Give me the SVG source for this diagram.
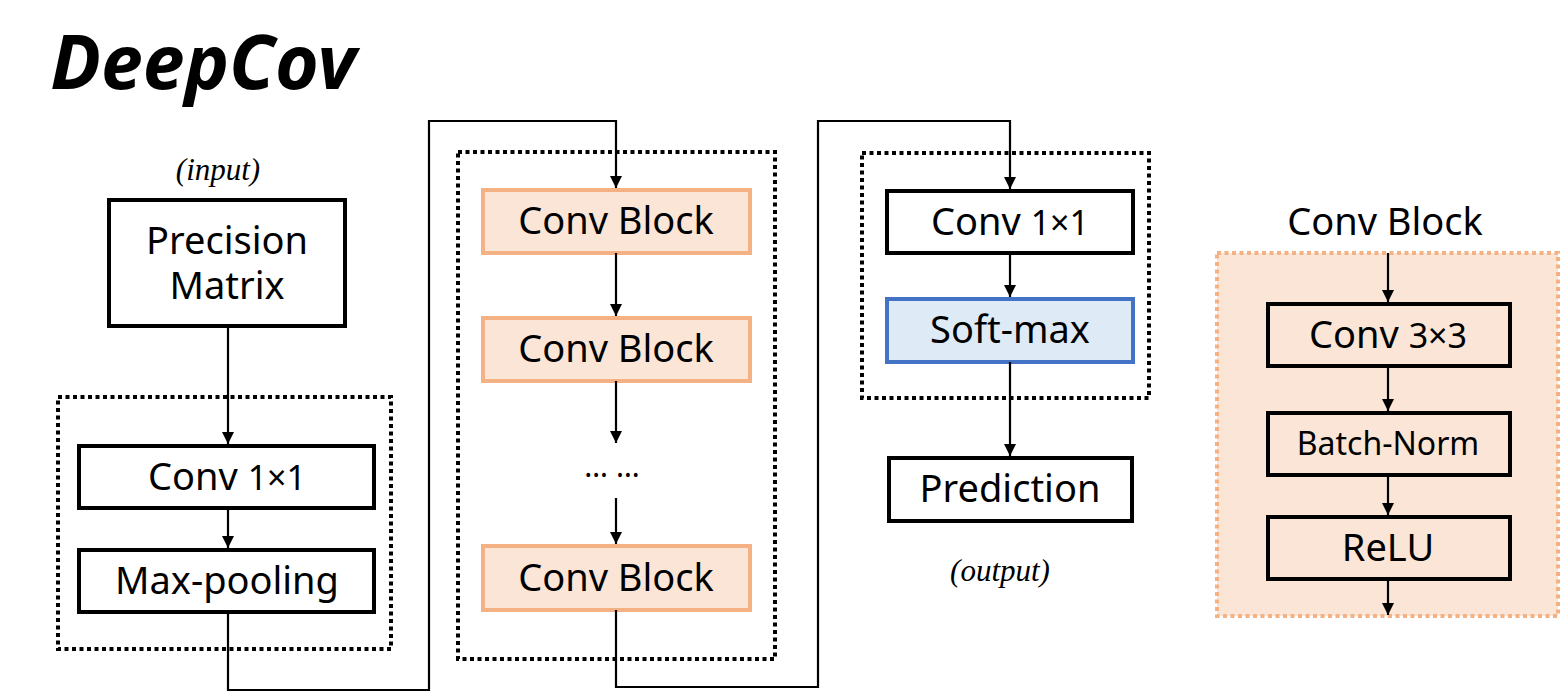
<svg xmlns="http://www.w3.org/2000/svg" width="1560" height="695" viewBox="0 0 1560 695">
<style>
text{font-family:"Noto Sans","Open Sans",sans-serif;fill:#000;text-anchor:middle}
.lbl{font-size:38px}
.sm{font-size:34px}
.box{fill:#fff;stroke:#000;stroke-width:4}
.cb{fill:#FBE5D6;stroke:#F4B183;stroke-width:4}
.sb{fill:#DEEBF7;stroke:#4472C4;stroke-width:4}
.inner{fill:none;stroke:#000;stroke-width:4}
.grp{fill:none;stroke:#000;stroke-width:4;stroke-dasharray:4 3.5}
.cgrp{fill:#FBE5D6;stroke:#F4B183;stroke-width:4;stroke-dasharray:4 3.5}
.ar{fill:none;stroke:#000;stroke-width:2.2;marker-end:url(#ah)}
.ser{font-family:"Liberation Serif",serif;font-style:italic;font-size:31px}
</style>
<defs>
<marker id="ah" viewBox="0 0 12 12" refX="12" refY="6" markerWidth="12" markerHeight="12" markerUnits="userSpaceOnUse" orient="auto">
<path d="M0,0 L12,6 L0,12 z" fill="#000"/>
</marker>
</defs>
<rect width="1560" height="695" fill="#fff"/>
<text x="203" y="89" style="font-size:75px;font-weight:bold;font-style:italic">DeepCov</text>
<text x="218" y="180" class="ser">(input)</text>
<text x="1000" y="581" class="ser">(output)</text>

<g id="group1"><rect x="58" y="397" width="333" height="252" class="grp"/></g>
<g id="group2"><rect x="458" y="152" width="317" height="507" class="grp"/></g>
<g id="group3"><rect x="862" y="153" width="287" height="245" class="grp"/></g>
<g id="convblock-panel"><rect x="1217" y="253" width="341" height="363" class="cgrp"/>
<text x="1385" y="235" class="lbl">Conv Block</text></g>

<g id="precision"><rect x="109" y="200" width="236" height="126" class="box"/>
<text x="227" y="254" class="lbl">Precision</text><text x="227" y="299" class="lbl">Matrix</text></g>
<g id="conv1"><rect x="79" y="446" width="295" height="62" class="box"/>
<text x="227" y="490" class="lbl">Conv <tspan class="sm">1×1</tspan></text></g>
<g id="maxpool"><rect x="79" y="550" width="295" height="62" class="box"/>
<text x="227" y="594" class="lbl">Max-pooling</text></g>

<g id="cb1"><rect x="483" y="190" width="267" height="63" class="cb"/>
<text x="616" y="234" class="lbl">Conv Block</text></g>
<g id="cb2"><rect x="483" y="318" width="267" height="63" class="cb"/>
<text x="616" y="362" class="lbl">Conv Block</text></g>
<g id="dots"><text x="612" y="477" style="font-size:30px">… …</text></g>
<g id="cb3"><rect x="483" y="546" width="267" height="64" class="cb"/>
<text x="616" y="591" class="lbl">Conv Block</text></g>

<g id="conv2"><rect x="887" y="191" width="246" height="62" class="box"/>
<text x="1010" y="235" class="lbl">Conv <tspan class="sm">1×1</tspan></text></g>
<g id="softmax"><rect x="887" y="299" width="246" height="63" class="sb"/>
<text x="1010" y="343" class="lbl">Soft-max</text></g>
<g id="prediction"><rect x="889" y="458" width="243" height="63" class="box"/>
<text x="1010" y="502" class="lbl">Prediction</text></g>

<g id="conv3"><rect x="1268" y="304" width="242" height="62" class="inner"/>
<text x="1388" y="348" class="lbl">Conv <tspan class="sm">3×3</tspan></text></g>
<g id="bn"><rect x="1268" y="413" width="242" height="62" class="inner"/>
<text x="1388" y="455" style="font-size:32px">Batch-Norm</text></g>
<g id="relu"><rect x="1268" y="517" width="242" height="62" class="inner"/>
<text x="1388" y="561" class="lbl">ReLU</text></g>

<g id="connectors">
<path d="M228,326 V444" class="ar"/>
<path d="M228,508 V548" class="ar"/>
<path d="M228,612 V690 H429 V121 H616 V188" class="ar"/>
<path d="M616,253 V316" class="ar"/>
<path d="M616,381 V443" class="ar"/>
<path d="M616,498 V544" class="ar"/>
<path d="M616,610 V687 H818 V121 H1010 V189" class="ar"/>
<path d="M1010,253 V297" class="ar"/>
<path d="M1010,362 V456" class="ar"/>
<path d="M1388,253 V302" class="ar"/>
<path d="M1388,366 V411" class="ar"/>
<path d="M1388,475 V515" class="ar"/>
<path d="M1388,579 V615" class="ar"/>
</g>
</svg>
